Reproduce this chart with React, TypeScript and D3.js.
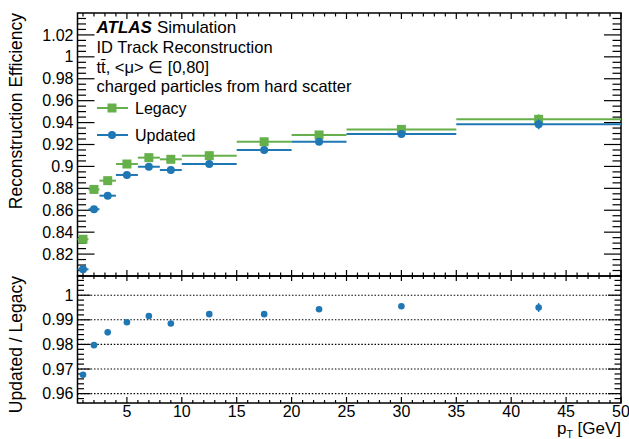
import * as d3 from 'd3'
import React from 'react'

// bin edges in pT [GeV]
const binLow = [0.5, 1.5, 2.5, 4, 6, 8, 10, 15, 20, 25, 35]
const binHigh = [1.5, 2.5, 4, 6, 8, 10, 15, 20, 25, 35, 50]

const legacyEff = [0.8335, 0.879, 0.887, 0.9022, 0.908, 0.9065, 0.9098, 0.9225, 0.9287, 0.9338, 0.943]
const legacyErr = [0.001, 0.001, 0.001, 0.001, 0.0012, 0.0013, 0.0013, 0.002, 0.0025, 0.003, 0.0045]
const updatedEff = [0.8061, 0.8609, 0.8733, 0.8922, 0.8997, 0.8967, 0.9022, 0.915, 0.9225, 0.9296, 0.9384]
const updatedErr = [0.001, 0.001, 0.001, 0.001, 0.0012, 0.0013, 0.0013, 0.002, 0.0025, 0.003, 0.0045]
const ratio = [0.9677, 0.9797, 0.9849, 0.989, 0.9915, 0.9885, 0.9923, 0.9923, 0.9943, 0.9955, 0.995]
const ratioErr = [0.0003, 0.0003, 0.0003, 0.0003, 0.0003, 0.0003, 0.0003, 0.0004, 0.0005, 0.0007, 0.0018]

const topTicks = [0.82, 0.84, 0.86, 0.88, 0.9, 0.92, 0.94, 0.96, 0.98, 1, 1.02]
const ratioTicks = [0.96, 0.97, 0.98, 0.99, 1]
const xTicks = [5, 10, 15, 20, 25, 30, 35, 40, 45, 50]

const GREEN = '#66b04b'
const BLUE = '#1f77b4'
const FONT = '"Liberation Sans", Arial, Helvetica, sans-serif'

const W = 629
const H = 439
const L = 77.5
const R = 621
const T = 13
const MID = 276
const B = 403

const fmt = (v: number) => String(+v.toFixed(3))

const App = () => {
  const x = d3.scaleLinear().domain([0.5, 50]).range([L, R])
  const y = d3.scaleLinear().domain([0.8, 1.04]).range([MID, T])
  const yr = d3.scaleLinear().domain([0.9562, 1.0078]).range([B, MID])

  const centers = binLow.map((lo, i) => (lo + binHigh[i]) / 2)
  const xMinor = d3.range(1, 50, 1).filter((v) => v % 5 !== 0)
  const yMinor = d3.range(0.805, 1.04, 0.005).filter((v) => Math.abs(v * 50 - Math.round(v * 50)) > 1e-6)
  const yrMinor = d3.range(0.958, 1.008, 0.002).filter((v) => Math.abs(v * 100 - Math.round(v * 100)) > 1e-6)

  const series = [
    { name: 'Legacy', eff: legacyEff, err: legacyErr, color: GREEN, marker: 'square' },
    { name: 'Updated', eff: updatedEff, err: updatedErr, color: BLUE, marker: 'circle' },
  ]

  return (
    <svg
      width={W}
      height={H}
      style={{ position: 'absolute', left: 0, top: 0, background: '#fff' }}
      fontFamily={FONT}
    >
      {/* top panel ticks */}
      <g stroke="#000" strokeWidth={1.2}>
        {topTicks.map((v) => (
          <g key={'ty' + v}>
            <line x1={L} x2={L + 17} y1={y(v)} y2={y(v)} />
            <line x1={R - 17} x2={R} y1={y(v)} y2={y(v)} />
          </g>
        ))}
        {yMinor.map((v) => (
          <g key={'tym' + v}>
            <line x1={L} x2={L + 8.5} y1={y(v)} y2={y(v)} />
            <line x1={R - 8.5} x2={R} y1={y(v)} y2={y(v)} />
          </g>
        ))}
        {xTicks.map((v) => (
          <g key={'tx' + v}>
            <line x1={x(v)} x2={x(v)} y1={T} y2={T + 6} />
            <line x1={x(v)} x2={x(v)} y1={MID} y2={MID - 6} />
            <line x1={x(v)} x2={x(v)} y1={MID} y2={MID + 5} />
            <line x1={x(v)} x2={x(v)} y1={B} y2={B - 6} />
          </g>
        ))}
        {xMinor.map((v) => (
          <g key={'txm' + v}>
            <line x1={x(v)} x2={x(v)} y1={T} y2={T + 3.5} />
            <line x1={x(v)} x2={x(v)} y1={MID} y2={MID - 3.5} />
            <line x1={x(v)} x2={x(v)} y1={MID} y2={MID + 3} />
            <line x1={x(v)} x2={x(v)} y1={B} y2={B - 3} />
          </g>
        ))}
        {ratioTicks.map((v) => (
          <g key={'ry' + v}>
            <line x1={L} x2={L + 13} y1={yr(v)} y2={yr(v)} />
            <line x1={R - 13} x2={R} y1={yr(v)} y2={yr(v)} />
          </g>
        ))}
        {yrMinor.map((v) => (
          <g key={'rym' + v}>
            <line x1={L} x2={L + 6.5} y1={yr(v)} y2={yr(v)} />
            <line x1={R - 6.5} x2={R} y1={yr(v)} y2={yr(v)} />
          </g>
        ))}
      </g>

      {/* ratio grid */}
      <g stroke="#000" strokeWidth={1.1} strokeDasharray="1.5,1.8">
        {ratioTicks.map((v) => (
          <line key={'g' + v} x1={L} x2={R} y1={yr(v)} y2={yr(v)} />
        ))}
      </g>

      {/* frames */}
      <g fill="none" stroke="#000" strokeWidth={1.5}>
        <rect x={L} y={T} width={R - L} height={MID - T} />
        <rect x={L} y={MID} width={R - L} height={B - MID} />
      </g>

      {/* tick labels */}
      <g fontSize={16} fill="#000">
        {topTicks.map((v) => (
          <text key={'tl' + v} x={L - 4} y={y(v)} dy="0.35em" textAnchor="end">
            {fmt(v)}
          </text>
        ))}
        {ratioTicks.map((v) => (
          <text key={'rl' + v} x={L - 4} y={yr(v)} dy="0.35em" textAnchor="end">
            {fmt(v)}
          </text>
        ))}
        {xTicks.map((v) => (
          <text key={'xl' + v} x={x(v)} y={417} textAnchor="middle">
            {v}
          </text>
        ))}
      </g>

      {/* efficiency points */}
      {series.map((s) => (
        <g key={s.name} stroke={s.color} fill={s.color}>
          {s.eff.map((e, i) => (
            <g key={i}>
              <line x1={x(binLow[i])} x2={x(binHigh[i])} y1={y(e)} y2={y(e)} strokeWidth={2} />
              <line x1={x(centers[i])} x2={x(centers[i])} y1={y(e - s.err[i])} y2={y(e + s.err[i])} strokeWidth={1.6} />
              {s.marker === 'square' ? (
                <rect x={x(centers[i]) - 4.5} y={y(e) - 4.5} width={9} height={9} stroke="none" />
              ) : (
                <circle cx={x(centers[i])} cy={y(e)} r={4} stroke="none" />
              )}
            </g>
          ))}
        </g>
      ))}

      {/* ratio points */}
      <g fill={BLUE} stroke={BLUE}>
        {ratio.map((r, i) => (
          <g key={i}>
            <line x1={x(centers[i])} x2={x(centers[i])} y1={yr(r - ratioErr[i])} y2={yr(r + ratioErr[i])} strokeWidth={1.5} />
            <circle cx={x(centers[i])} cy={yr(r)} r={3.3} stroke="none" />
          </g>
        ))}
      </g>

      {/* header */}
      <g fill="#000" fontSize={17}>
        <text x={96.5} y={33}>
          <tspan fontWeight="bold" fontStyle="italic">ATLAS</tspan>
          <tspan dx={5}>Simulation</tspan>
        </text>
        <text x={96.5} y={53} fontSize={16.5}>ID Track Reconstruction</text>
        <text x={96.5} y={72.5} fontSize={16.5}>
          t{'t\u0304'}, &lt;μ&gt; ∈ [0,80]
        </text>
        <text x={96.5} y={91.5} fontSize={16.5}>charged particles from hard scatter</text>
      </g>

      {/* legend */}
      {series.map((s, i) => {
        const ly = 108 + i * 27
        return (
          <g key={'lg' + s.name}>
            <line x1={97} x2={128} y1={ly} y2={ly} stroke={s.color} strokeWidth={2} />
            {s.marker === 'square' ? (
              <rect x={107.5} y={ly - 4.5} width={9} height={9} fill={s.color} />
            ) : (
              <circle cx={112} cy={ly} r={4} fill={s.color} />
            )}
            <text x={135} y={ly} dy="0.35em" fontSize={16}>
              {s.name}
            </text>
          </g>
        )
      })}

      {/* axis titles */}
      <text transform={`translate(21.5,${T}) rotate(-90)`} textAnchor="end" fontSize={17.5}>
        Reconstruction Efficiency
      </text>
      <text transform={`translate(21.5,${MID}) rotate(-90)`} textAnchor="end" fontSize={17.5}>
        Updated / Legacy
      </text>
      <text x={R} y={434} textAnchor="end" fontSize={17}>
        p<tspan fontSize={10.5} dy={4}>T</tspan>
        <tspan dy={-4}> [GeV]</tspan>
      </text>
    </svg>
  )
}

export default App
